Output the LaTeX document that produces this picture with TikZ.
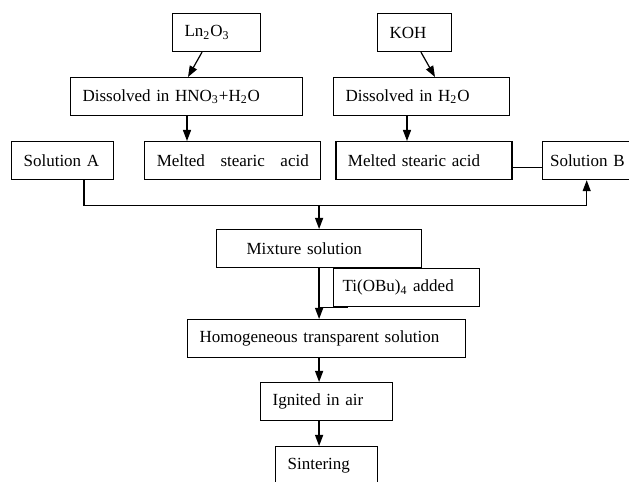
\documentclass[tikz,border=0pt]{standalone}
\usepackage{fontspec}
\setmainfont{Liberation Serif}
\usetikzlibrary{positioning, arrows.meta}

\begin{document}
\begin{tikzpicture}[
    x=1pt, y=1pt,
    font=\fontsize{8.5}{10}\selectfont,
    boite/.style={rectangle, draw, line width=0.6pt, inner xsep=6pt, inner ysep=0pt,
                  minimum height=19pt, align=left},
    fleche/.style={-{Triangle[length=5.5pt, width=4pt]}, line width=0.6pt},
    trait/.style={line width=0.6pt}]
    \useasboundingbox (0,0) rectangle (314.5,-241);
    % precurseurs
    \node[boite, anchor=north west, text width=32pt] (ln) at (86,-6.5) {Ln\textsubscript{2}O\textsubscript{3}};
    \node[boite, anchor=north west, text width=25pt] (koh) at (188.5,-6.5) {KOH};
    \node[boite, anchor=north west, text width=104pt] (dA) at (35,-38.5) {Dissolved in HNO\textsubscript{3}+H\textsubscript{2}O};
    \node[boite, anchor=north west, text width=76pt] (dB) at (166.5,-38.5) {Dissolved in H\textsubscript{2}O};
    % solutions A et B
    \node[boite, anchor=north west, text width=39pt] (solA) at (5.5,-70.5) {Solution A};
    \node[boite, text width=76pt, right=15pt of solA] (melA) {\makebox[76pt]{Melted\hfill stearic\hfill acid}};
    \node[boite, text width=76pt, right=7pt of melA] (melB) {Melted stearic acid};
    \node[boite, text width=38pt, inner xsep=3.25pt, align=right, right=14.5pt of melB] (solB) {Solution B};
    % melange
    \node[boite, anchor=north west, text width=72.5pt, inner xsep=15pt] (mix) at (108,-114.5) {Mixture solution};
    \node[boite, anchor=north west, text width=64pt, inner xsep=4.5pt] (ti) at (166.5,-134) {Ti(OBu)\textsubscript{4} added};
    \node[boite, anchor=north west, text width=127pt] (hom) at (93.5,-159.5) {Homogeneous transparent solution};
    \node[boite, anchor=north west, text width=54pt] (ign) at (130,-191) {Ignited in air};
    \node[boite, anchor=north west, text width=39pt, minimum height=19.5pt] (sin) at (137.5,-223) {Sintering};
    % fleches
    \draw[fleche] ([xshift=15pt]ln.south west) -- ([xshift=59pt]dA.north west);
    \draw[fleche] ([xshift=22pt]koh.south west) -- ([xshift=51pt]dB.north west);
    \draw[fleche] ([xshift=58.5pt]dA.south west) -- ([xshift=58.5pt]dA.south west |- melA.north);
    \draw[fleche] ([xshift=37pt]dB.south west) -- ([xshift=37pt]dB.south west |- melB.north);
    \draw[trait] ([yshift=-3.5pt]melB.east) -- ([yshift=-3.5pt]solB.west);
    \draw[fleche] ([xshift=10.75pt]solA.south) -- ++(0,-12.5) coordinate (coude) -| (solB.south);
    \draw[fleche] (coude -| mix.north) -- (mix.north);
    \draw[fleche] (mix.south) -- (mix.south |- hom.north);
    \draw[trait] (mix.south |- ti.south) -- ([xshift=7.5pt]ti.south west);
    \draw[fleche] (hom.south -| mix.south) -- (ign.north -| mix.south);
    \draw[fleche] (ign.south -| mix.south) -- (sin.north -| mix.south);
\end{tikzpicture}
\end{document}
